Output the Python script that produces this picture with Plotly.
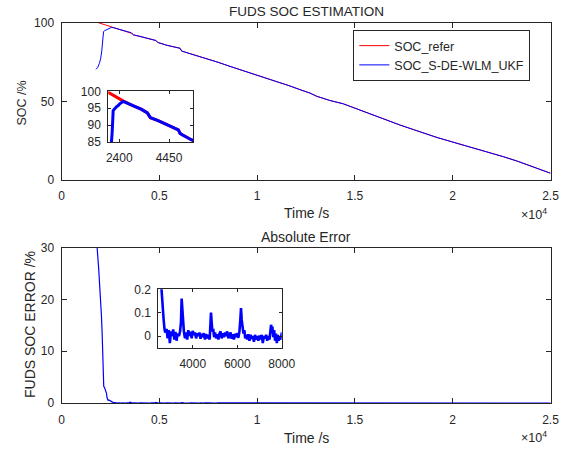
import plotly.graph_objects as go

W, H = 575, 449

# ---------------- data ----------------
# SOC estimate (blue) : time [s], SOC [%]
est_t = [1764, 1850, 1934, 2000, 2060, 2110, 2150, 2200, 2240, 2300, 2350, 2420, 2560,
         2700, 2980, 3300, 3560, 3600, 3680, 4000, 4356, 4834, 4900, 4974, 5386, 5700,
         6058, 6145, 6500, 7000, 7423, 8000, 8614, 9300, 10317, 11000, 11685, 12193,
         12705, 13046, 13700, 14407, 15010, 15777, 16500, 17311, 18000, 18503, 19200,
         19949, 20600, 21227, 21900, 22590, 23300, 24123, 24600, 25000]
est_soc = [70.3, 71.5, 74.0, 77.0, 82.0, 88.0, 94.3, 94.8, 95.0, 95.5, 95.7, 96.3, 97.0,
           96.6, 95.7, 94.7, 93.6, 93.1, 92.2, 91.3, 90.1, 88.6, 87.6, 87.2, 85.6, 84.6,
           83.7, 81.9, 80.6, 78.8, 77.3, 74.8, 72.2, 69.4, 65.6, 62.6, 59.7, 57.4,
           55.2, 53.2, 50.6, 48.4, 45.6, 41.6, 38.2, 34.9, 32.0, 29.7, 27.0,
           24.3, 22.0, 20.0, 17.4, 14.8, 12.0, 8.4, 6.4, 4.3]

# SOC reference (red)
ref_t = [1870, 1950, 2030, 2100, 2226, 2350, 2502, 2600, 2700, 2980, 3300, 3560, 3600,
         3680, 4000, 4356, 4834, 4900, 4974, 5386, 5700, 6058, 6145, 6500, 7000, 7423,
         8000, 8614, 9300, 10317, 11000, 11685, 12193, 12705, 13046, 13700, 14407,
         15010, 15777, 16500, 17311, 18000, 18503, 19200, 19949, 20600, 21227, 21900,
         22590, 23300, 24123, 24600, 25000]
ref_soc = [100.0, 99.7, 99.3, 99.0, 98.6, 98.0, 97.4, 97.0, 96.6, 95.7, 94.7, 93.6, 93.1,
           92.2, 91.3, 90.1, 88.6, 87.6, 87.2, 85.6, 84.6, 83.7, 81.9, 80.6, 78.8, 77.3,
           74.8, 72.2, 69.4, 65.6, 62.6, 59.7, 57.4, 55.2, 53.2, 50.6, 48.4,
           45.6, 41.6, 38.2, 34.9, 32.0, 29.7, 27.0, 24.3, 22.0, 20.0, 17.4,
           14.8, 12.0, 8.4, 6.4, 4.3]

# Absolute error [%]
err_t = [1764, 1822, 1900, 1991, 2040, 2078, 2120, 2150, 2160, 2200, 2250, 2297, 2330,
         2380, 2415, 2500, 2580, 2610, 2650, 2690, 2730, 2760,
         2820, 2870, 2920, 2970, 3020, 3070, 3120, 3170, 3220, 3270, 3320, 3380, 3430,
         3470, 3500, 3530, 3560, 3600, 3650, 3700, 3750, 3800, 3850, 3900, 3950, 4000,
         4050, 4100, 4150, 4200, 4250, 4300, 4350, 4400, 4450, 4500, 4550, 4600, 4650,
         4700, 4760, 4800, 4820, 4850, 4880, 4920, 4960, 5000, 5050, 5100, 5150, 5200,
         5250, 5300, 5350, 5400, 5450, 5500, 5550, 5600, 5650, 5700, 5750, 5800, 5850,
         5900, 5950, 6000, 6050, 6100, 6140, 6170, 6200, 6240, 6280, 6320, 6360, 6400,
         6450, 6500, 6550, 6600, 6650, 6700, 6750, 6800, 6850, 6900, 6950, 7000, 7050,
         7100, 7150, 7200, 7250, 7300, 7350, 7400, 7450, 7490, 7520, 7550, 7580, 7620,
         7660, 7700, 7740, 7780, 7820, 7860, 7900, 7950, 8000,
         9000, 12000, 15000, 20000, 25000]
err_v = [32.0, 30.0, 26.0, 21.2, 17.0, 13.5, 8.0, 4.0, 3.2, 3.0, 2.6, 1.9, 1.0,
         0.5, 0.6, 0.35, 0.22, 0.17, 0.11, 0.07, 0.03, 0.015,
         0.030, -0.010, 0.025, -0.030, 0.020, 0.000, 0.028, -0.015, 0.018, -0.020, 0.010, 0.000, 0.020,
         0.060, 0.160, 0.110, 0.040, 0.020, -0.010, 0.015, -0.015, 0.025, 0.000, 0.018, -0.010, 0.022,
         0.005, 0.015, -0.010, 0.012, 0.000, 0.015, -0.012, 0.010, -0.005, 0.012, -0.015, 0.008, -0.010,
         0.005, -0.015, 0.040, 0.100, 0.060, 0.020, 0.030, -0.005, 0.015, -0.010, 0.008, -0.015, 0.010,
         0.020, -0.010, 0.012, -0.005, 0.015, 0.000, 0.020, -0.010, 0.005, 0.015, -0.012, 0.008, -0.015,
         0.010, -0.005, 0.012, -0.008, 0.020, 0.070, 0.120, 0.070, 0.030, 0.010, 0.025, -0.010, 0.005,
         -0.015, 0.008, -0.020, 0.005, -0.012, 0.000, -0.025, 0.005, -0.015, 0.000, -0.020, 0.002, -0.015,
         0.005, -0.030, 0.000, -0.010, 0.005, -0.020, 0.000, -0.015, 0.020, 0.048, 0.030, 0.040, -0.005,
         0.025, -0.020, 0.010, -0.030, 0.005, -0.020, 0.000, -0.015, 0.010,
         0.005, -0.010, 0.000, 0.010, 0.000]

main_xticks = [0, 5000, 10000, 15000, 20000, 25000]
main_xticktext = ["0", "0.5", "1", "1.5", "2", "2.5"]
inset1_xticks = [2400, 4450]
inset2_xticks = [4000, 6000, 8000]

# ---------------- figure ----------------
TXT = "#262626"
FONT = "Liberation Sans, Arial, sans-serif"
RED = "#ff0000"
BLUE = "#0000ff"

def px(x):
    return x / W

def py(y):
    return 1 - y / H

fig = go.Figure()
fig.add_trace(go.Scatter(x=ref_t, y=ref_soc, mode="lines", name="SOC_refer",
                         line=dict(color=RED, width=1), xaxis="x", yaxis="y"))
fig.add_trace(go.Scatter(x=est_t, y=est_soc, mode="lines", name="SOC_S-DE-WLM_UKF",
                         line=dict(color=BLUE, width=1), xaxis="x", yaxis="y"))
fig.add_trace(go.Scatter(x=ref_t, y=ref_soc, mode="lines", showlegend=False,
                         line=dict(color=RED, width=3), xaxis="x2", yaxis="y2"))
fig.add_trace(go.Scatter(x=est_t, y=est_soc, mode="lines", showlegend=False,
                         line=dict(color=BLUE, width=3), xaxis="x2", yaxis="y2"))
fig.add_trace(go.Scatter(x=err_t, y=err_v, mode="lines", showlegend=False,
                         line=dict(color=BLUE, width=1.2), xaxis="x3", yaxis="y3"))
fig.add_trace(go.Scatter(x=err_t, y=err_v, mode="lines", showlegend=False,
                         line=dict(color=BLUE, width=2.6), xaxis="x4", yaxis="y4"))

def ax(**kw):
    base = dict(showline=True, linecolor=TXT, linewidth=1, mirror="ticks",
                ticks="inside", ticklen=5, tickcolor=TXT, tickwidth=1,
                showgrid=False, zeroline=False, automargin=False,
                tickfont=dict(size=12, color=TXT, family=FONT),
                tickmode="array")
    base.update(kw)
    return base

XSO = 5   # x tick label standoff
YSO = 4   # y tick label standoff
top_x = [px(61.5), px(550.5)]
fig.update_layout(
    width=W, height=H,
    margin=dict(l=0, r=0, t=0, b=0, autoexpand=False),
    paper_bgcolor="white", plot_bgcolor="white",
    font=dict(family=FONT, color=TXT),
    xaxis=ax(domain=top_x, range=[0, 25000], tickvals=main_xticks, ticktext=main_xticktext,
             anchor="y", ticklabelstandoff=XSO),
    yaxis=ax(domain=[py(180), py(22.6)], range=[0, 100], tickvals=[0, 50, 100], anchor="x",
             ticklabelstandoff=YSO),
    xaxis2=ax(domain=[px(108.3), px(193.3)], range=[1950, 5450], tickvals=inset1_xticks,
              anchor="y2", ticklen=3, ticklabelstandoff=XSO),
    yaxis2=ax(domain=[py(142), py(91.3)], range=[85, 100], tickvals=[85, 90, 95, 100],
              anchor="x2", ticklen=3, ticklabelstandoff=YSO),
    xaxis3=ax(domain=top_x, range=[0, 25000], tickvals=main_xticks, ticktext=main_xticktext,
              anchor="y3", ticklabelstandoff=XSO + 1),
    yaxis3=ax(domain=[py(403), py(247.7)], range=[0, 30], tickvals=[0, 10, 20, 30],
              anchor="x3", ticklabelstandoff=YSO),
    xaxis4=ax(domain=[px(158.3), px(281.7)], range=[2450, 8000], tickvals=inset2_xticks,
              anchor="y4", ticklen=3, ticklabelstandoff=XSO),
    yaxis4=ax(domain=[py(347.7), py(289.3)], range=[-0.05, 0.2], tickvals=[0, 0.1, 0.2],
              anchor="x4", ticklen=3, ticklabelstandoff=YSO),
    legend=dict(x=px(353.3), y=py(30), xanchor="left", yanchor="top",
                bgcolor="white", bordercolor=TXT, borderwidth=1,
                font=dict(size=12.5, color=TXT, family=FONT),
                tracegroupgap=0),
    showlegend=True,
)

def note(text, x, y, size=12, angle=0, xanchor="center", yanchor="middle"):
    fig.add_annotation(text=text, x=px(x), y=py(y), xref="paper", yref="paper",
                       showarrow=False, textangle=angle, xanchor=xanchor, yanchor=yanchor,
                       font=dict(size=size, color=TXT, family=FONT))

note("FUDS SOC ESTIMATION", 306, 12, size=13.5)
note("Absolute Error", 306, 237, size=14)
note("Time /s", 306, 213, size=14)
note("Time /s", 306, 438, size=14)
note("SOC /%", 21.5, 103, size=12.5, angle=-90)
note("FUDS SOC ERROR /%", 30, 325, size=14, angle=-90)
note("×10<sup>4</sup>", 549, 214, size=12.5, xanchor="right")
note("×10<sup>4</sup>", 549, 437, size=12.5, xanchor="right")

fig.write_html("out.html", config={"displayModeBar": False},
               post_script="document.body.style.margin='0px';document.body.style.overflow='hidden';")
